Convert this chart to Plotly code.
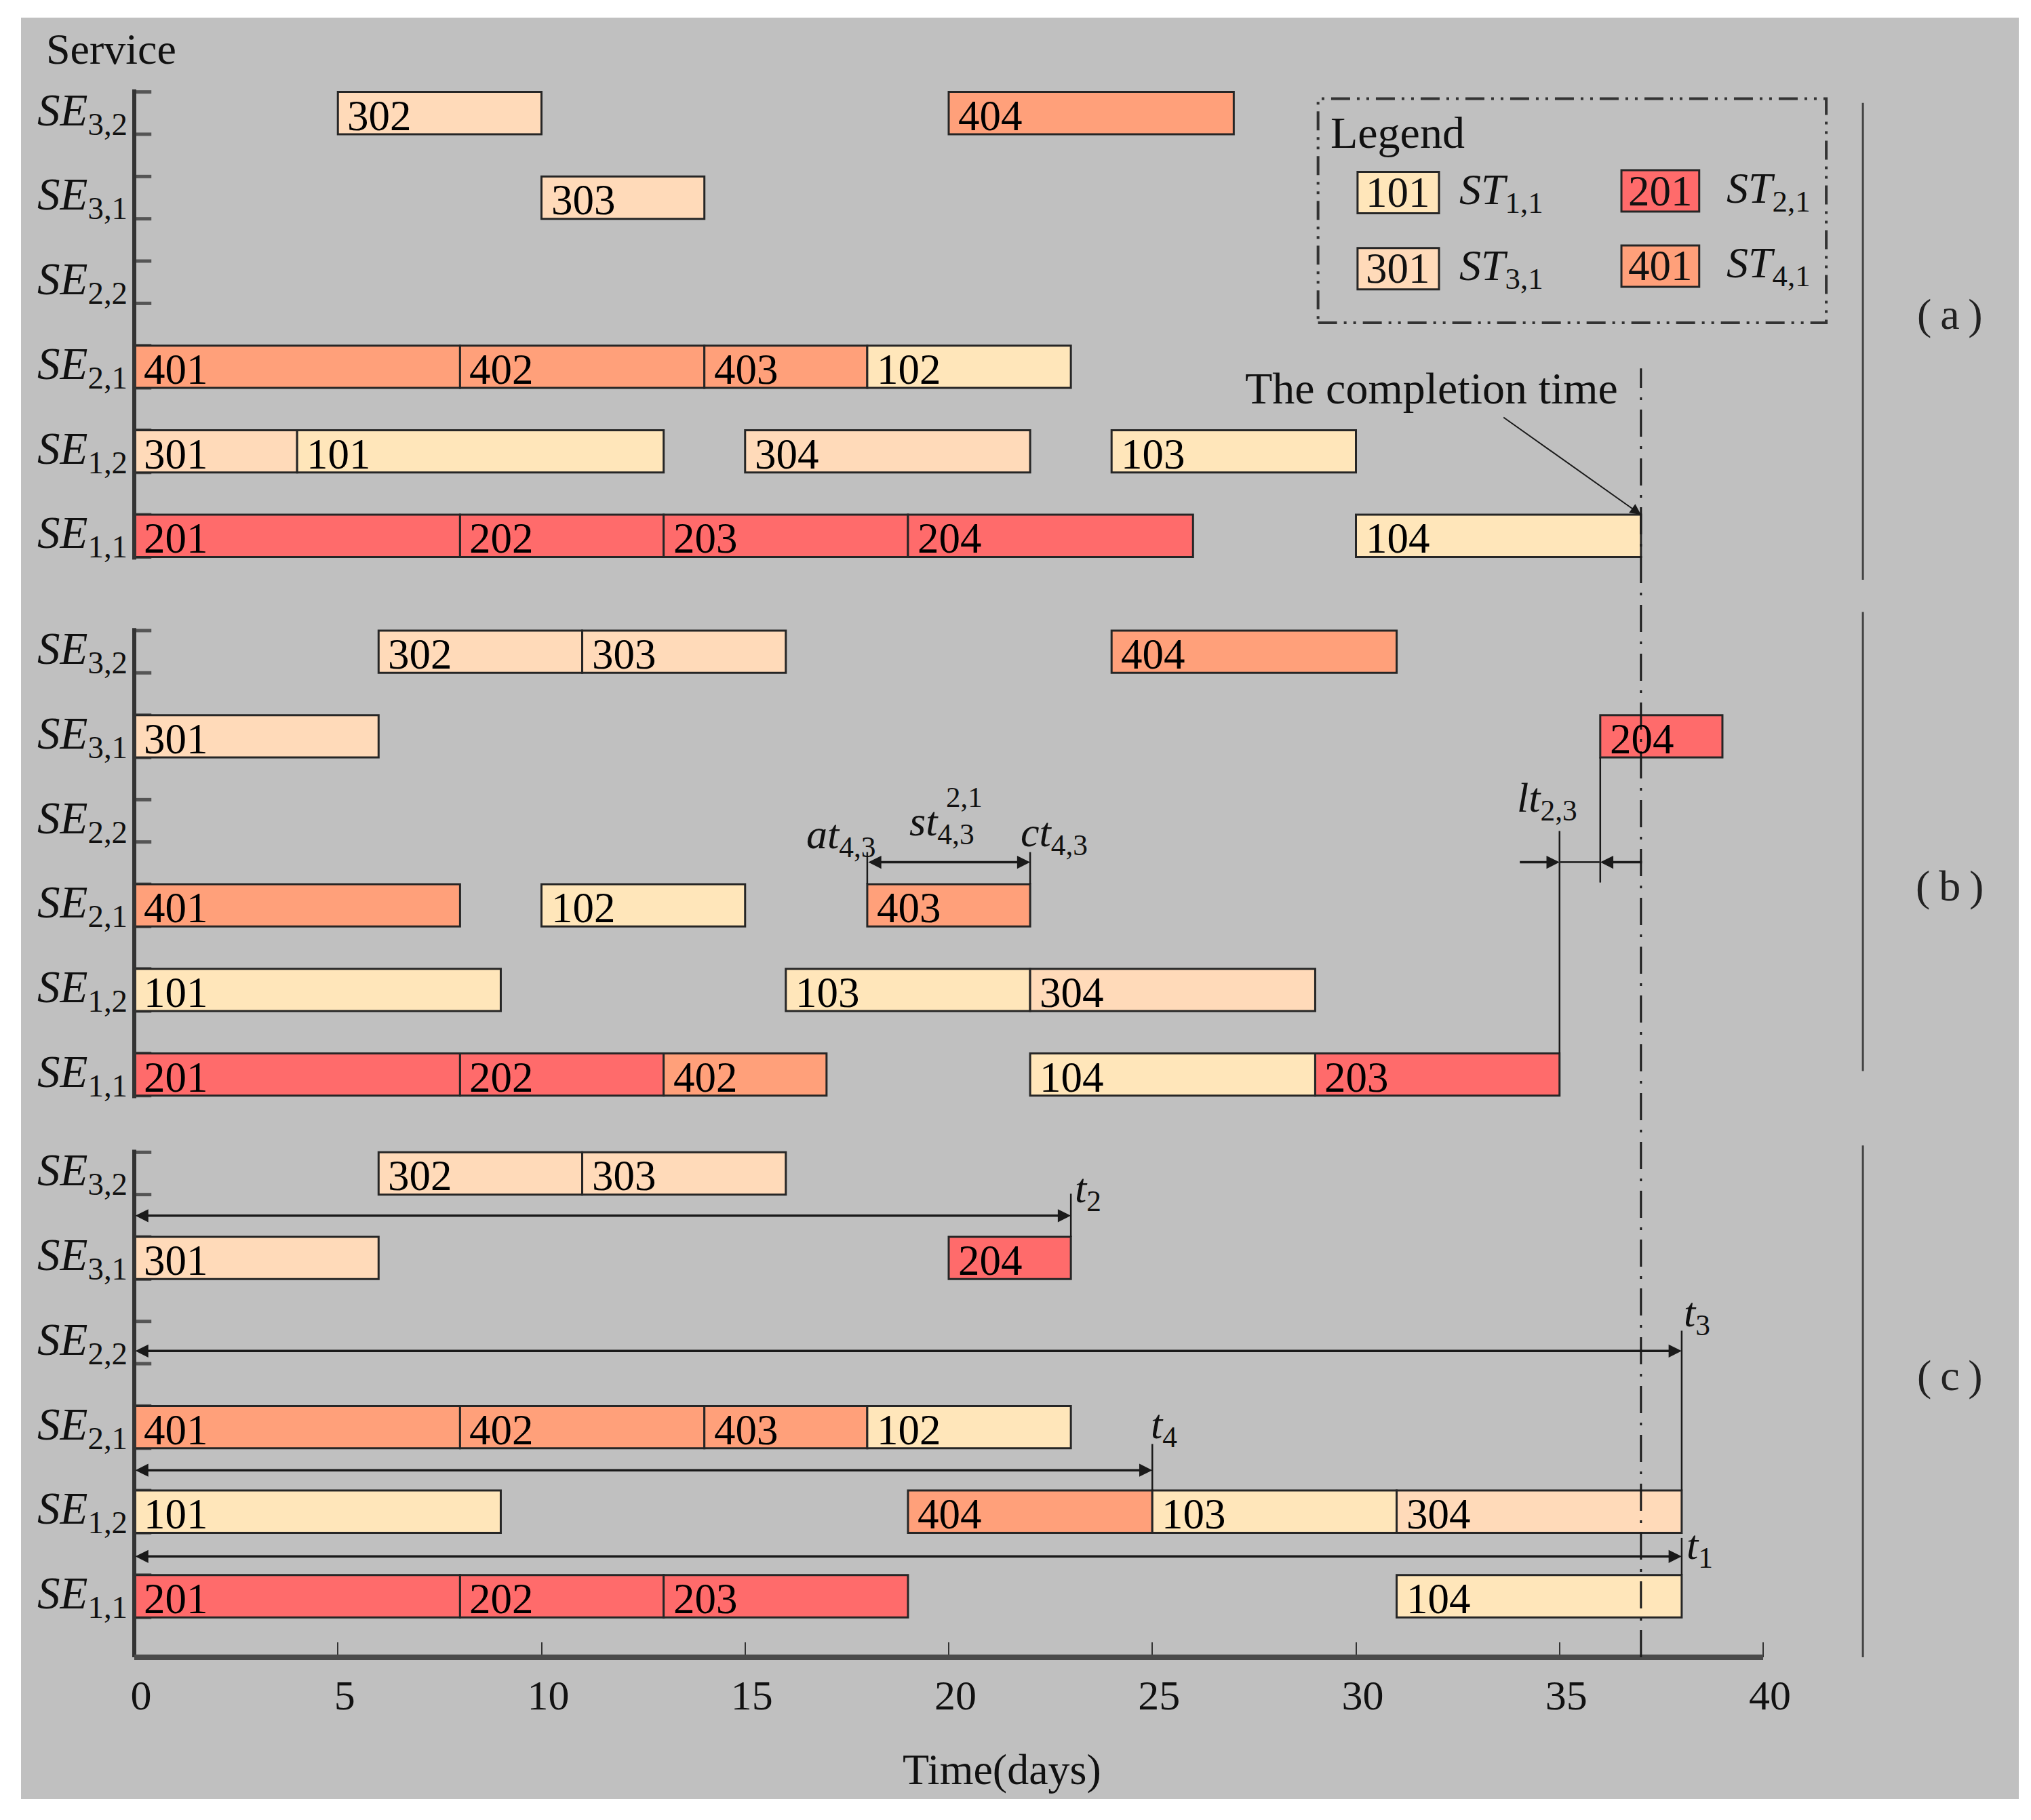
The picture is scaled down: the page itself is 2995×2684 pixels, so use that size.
import plotly.graph_objects as go

# ---------------- data ----------------
service_rows = ["1,1", "1,2", "2,1", "2,2", "3,1", "3,2"]   # bottom -> top

a_row   = ["3,2", "3,2", "3,1", "2,1", "2,1", "2,1", "2,1", "1,2", "1,2", "1,2", "1,2", "1,1", "1,1", "1,1", "1,1", "1,1"]
a_task  = ["302", "404", "303", "401", "402", "403", "102", "301", "101", "304", "103", "201", "202", "203", "204", "104"]
a_start = [5, 20, 10, 0, 8, 14, 18, 0, 4, 15, 24, 0, 8, 13, 19, 30]
a_end   = [10, 27, 14, 8, 14, 18, 23, 4, 13, 22, 30, 8, 13, 19, 26, 37]

b_row   = ["3,2", "3,2", "3,2", "3,1", "3,1", "2,1", "2,1", "2,1", "1,2", "1,2", "1,2", "1,1", "1,1", "1,1", "1,1", "1,1"]
b_task  = ["302", "303", "404", "301", "204", "401", "102", "403", "101", "103", "304", "201", "202", "402", "104", "203"]
b_start = [6, 11, 24, 0, 36, 0, 10, 18, 0, 16, 22, 0, 8, 13, 22, 29]
b_end   = [11, 16, 31, 6, 39, 8, 15, 22, 9, 22, 29, 8, 13, 17, 29, 35]

c_row   = ["3,2", "3,2", "3,1", "3,1", "2,1", "2,1", "2,1", "2,1", "1,2", "1,2", "1,2", "1,2", "1,1", "1,1", "1,1", "1,1"]
c_task  = ["302", "303", "301", "204", "401", "402", "403", "102", "101", "404", "103", "304", "201", "202", "203", "104"]
c_start = [6, 11, 0, 20, 0, 8, 14, 18, 0, 19, 25, 31, 0, 8, 13, 31]
c_end   = [11, 16, 6, 23, 8, 14, 18, 23, 9, 25, 31, 38, 8, 13, 19, 38]

completion_time = 37
at_43, ct_43 = 18, 22          # panel (b) 403 window
lt_start, lt_end = 35, 36      # panel (b) lt_{2,3}
t_values = {"1": 38, "2": 23, "3": 38, "4": 25}   # panel (c)

x_ticks = [0, 5, 10, 15, 20, 25, 30, 35, 40]

legend_ids = ["101", "201", "301", "401"]
legend_names = ["1,1", "2,1", "3,1", "4,1"]

# ---------------- style ----------------
FONT = "Liberation Serif"
BG = "#c0c0c0"
type_colors = {"1": "#FFE6BA", "2": "#FF6B6B", "3": "#FFDAB9", "4": "#FFA07A"}
EDGE = "#262626"
panel_offset = {"a": 12.54, "b": 6.17, "c": 0.0}
BAR_H = 0.5
AXIS_Y = -0.722
YMIN, YMAX = -2.398, 18.669
XMIN, XMAX = -2.781, 46.278

fig = go.Figure()
annotations = []
shapes = []


def rowpos(panel, r):
    return panel_offset[panel] + service_rows.index(r)


panels = {
    "a": (a_row, a_task, a_start, a_end),
    "b": (b_row, b_task, b_start, b_end),
    "c": (c_row, c_task, c_start, c_end),
}

for p, (rr, tt, ss, ee) in panels.items():
    ys = [rowpos(p, r) for r in rr]
    fig.add_trace(go.Bar(
        orientation="h", y=ys, base=ss, x=[e - s for s, e in zip(ss, ee)],
        width=BAR_H, marker=dict(color=[type_colors[t[0]] for t in tt],
                                 line=dict(color=EDGE, width=3)),
        hoverinfo="skip", showlegend=False))
    for y, t, s in zip(ys, tt, ss):
        annotations.append(dict(x=s, y=y, text=t, xanchor="left", yanchor="middle",
                                xshift=12, yshift=-4, showarrow=False,
                                font=dict(family=FONT, size=63, color="black")))
    # service labels
    for i, r in enumerate(service_rows):
        annotations.append(dict(x=0, y=panel_offset[p] + i,
                                text="<i>SE</i><sub>%s</sub>" % r,
                                xanchor="right", yanchor="middle", xshift=-8,
                                showarrow=False, font=dict(family=FONT, size=67, color="#111")))
        for d in (-BAR_H / 2, BAR_H / 2):
            shapes.append(dict(type="line", x0=0, x1=0.42, y0=panel_offset[p] + i + d,
                               y1=panel_offset[p] + i + d, line=dict(color="#555", width=5),
                               layer="below"))
    # y axis line of the panel
    top = panel_offset[p] + len(service_rows) - 1 + BAR_H / 2 + 0.03
    bot = AXIS_Y if p == "c" else panel_offset[p] - BAR_H / 2 - 0.03
    shapes.append(dict(type="line", x0=0, x1=0, y0=bot, y1=top,
                       line=dict(color="#333", width=6)))

# x axis line
shapes.append(dict(type="line", x0=0, x1=40, y0=AXIS_Y, y1=AXIS_Y,
                   line=dict(color="#4a4a4a", width=8)))

# completion time line
shapes.append(dict(type="line", x0=completion_time, x1=completion_time, y0=AXIS_Y, y1=14.52,
                   line=dict(color="#1a1a1a", width=3, dash="40px,14px,4px,14px")))

# right-hand separators
for y0, y1 in [(12.02, 17.66), (6.21, 11.64), (AXIS_Y, 5.33)]:
    shapes.append(dict(type="line", x0=42.45, x1=42.45, y0=y0, y1=y1,
                       line=dict(color="#444", width=3)))
for lab, y in [("a", 15.16), ("b", 8.40), ("c", 2.61)]:
    annotations.append(dict(x=44.58, y=y, text="(\u2009%s\u2009)" % lab, showarrow=False,
                            font=dict(family=FONT, size=64, color="#222")))


def arrow(xt, yt, xh, yh, both=False, width=3, size=1.3):
    annotations.append(dict(x=xh, y=yh, ax=xt, ay=yt, xref="x", yref="y",
                            axref="x", ayref="y", text="", showarrow=True,
                            arrowhead=2, arrowsize=size, arrowwidth=width,
                            arrowcolor="#1a1a1a",
                            arrowside="end+start" if both else "end",
                            standoff=0, startstandoff=0))


def vline(x, y0, y1, w=2.5):
    shapes.append(dict(type="line", x0=x, x1=x, y0=y0, y1=y1,
                       line=dict(color="#1a1a1a", width=w)))


def label(x, y, text, size=62, anchor="center"):
    annotations.append(dict(x=x, y=y, text=text, showarrow=False, xanchor=anchor,
                            font=dict(family=FONT, size=size, color="#111")))


# completion time annotation (a)
label(31.85, 14.29, "The completion time", size=66)
arrow(33.6, 13.95, completion_time, 12.79, width=2, size=1.6)

# panel (b): at / st / ct
vline(at_43, 8.42, 8.80)
vline(ct_43, 8.42, 8.80)
arrow(at_43, 8.68, ct_43, 8.68, both=True, width=3.5, size=1.1)
label(17.36, 8.98, "<i>at</i><sub>4,3</sub>")
label(19.84, 9.13, "<i>st</i><sub>4,3</sub>")
label(20.39, 9.45, "2,1", size=43)
label(22.59, 9.00, "<i>ct</i><sub>4,3</sub>")

# panel (b): lt_{2,3}
vline(lt_start, 6.42, 9.05)
vline(lt_end, 8.44, 9.92)
shapes.append(dict(type="line", x0=lt_start, x1=lt_end, y0=8.68, y1=8.68,
                   line=dict(color="#333", width=3)))
arrow(34.0, 8.68, lt_start, 8.68, width=3.5, size=1.1)
arrow(37.05, 8.68, lt_end, 8.68, width=3.5, size=1.1)
label(34.69, 9.41, "<i>lt</i><sub>2,3</sub>")

# panel (c): t arrows
t_levels = {"2": (4.50, 4.25, 4.76, 23.43, 4.79),
            "3": (2.90, 1.25, 3.14, 38.37, 3.32),
            "4": (1.49, 1.25, 1.80, 25.29, 2.00),
            "1": (0.47, 0.25, 0.69, 38.45, 0.57)}
for k, (yl, v0, v1, lx, ly) in t_levels.items():
    tv = t_values[k]
    vline(tv, v0, v1)
    arrow(0, yl, tv, yl, both=True, width=3.5, size=1.1)
    label(lx, ly, "<i>t</i><sub>%s</sub>" % k)

# legend
shapes.append(dict(type="rect", x0=29.07, x1=41.55, y0=15.06, y1=17.71,
                   line=dict(color="#333", width=4, dash="28px,10px,4px,10px,4px,10px")))
label(29.34, 17.31, "Legend", size=66, anchor="left")
leg_pos = [(30.04, 32.04, 16.60, 32.5), (36.52, 38.43, 16.62, 39.07),
           (30.04, 32.04, 15.70, 32.5), (36.52, 38.43, 15.73, 39.07)]
for tid, nm, (x0, x1, yc, lx) in zip(legend_ids, legend_names, leg_pos):
    shapes.append(dict(type="rect", x0=x0, x1=x1, y0=yc - 0.245, y1=yc + 0.245,
                       fillcolor=type_colors[tid[0]], line=dict(color=EDGE, width=3)))
    label((x0 + x1) / 2, yc, tid, size=63)
    label(lx, yc, "<i>ST</i><sub>%s</sub>" % nm, size=64, anchor="left")

# service header and axis title
label(-2.2, 18.30, "Service", size=64, anchor="left")
label(21.31, -2.05, "Time(days)", size=64)

# page body adds an 8px margin: figure is sized/offset to compensate
fig.update_layout(
    width=2979, height=2668,
    margin=dict(l=23, r=10, t=18, b=23),
    paper_bgcolor="white", plot_bgcolor=BG,
    barmode="overlay", showlegend=False,
    font=dict(family=FONT, size=60, color="#111"),
    xaxis=dict(range=[XMIN, XMAX], tickvals=x_ticks, ticktext=[str(v) for v in x_ticks],
               showgrid=False, zeroline=False, showline=False,
               ticks="inside", ticklen=22, tickwidth=2, tickcolor="#333",
               anchor="free", position=(AXIS_Y - YMIN) / (YMAX - YMIN),
               ticklabelstandoff=14, ticklabelshift=10,
               tickfont=dict(family=FONT, size=62, color="#111")),
    yaxis=dict(range=[YMIN, YMAX], visible=False),
    annotations=annotations, shapes=shapes,
)

fig.write_html("out.html")
